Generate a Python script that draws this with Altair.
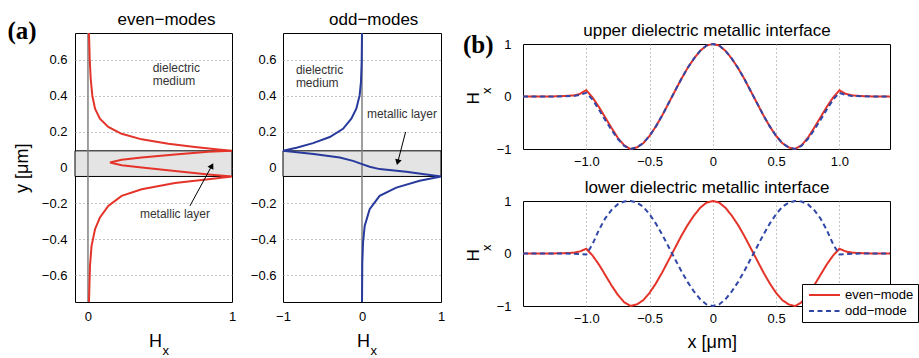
import altair as alt
import pandas as pd

FONT = "Liberation Sans"
SERIF = "Liberation Serif"
RED = "#e4342a"
BLUE = "#3047a8"
NAVY = "#283a9c"
GRID = "#8c8c8c"
BAND = "#e4e4e4"
ZERO = "#7f7f7f"
TXT = "#333333"

# ---------------- data : panel (a) ----------------
panel_titles = ["even−modes", "odd−modes",
                "upper dielectric metallic interface", "lower dielectric metallic interface"]

even_hx = [0.007, 0.012, 0.019, 0.030, 0.049, 0.083, 0.141, 0.234, 0.373, 0.558, 0.743, 0.905, 1.000,
           0.836, 0.604, 0.373, 0.234, 0.153,
           0.234, 0.373, 0.604, 0.836, 1.000,
           0.836, 0.604, 0.373, 0.234, 0.141, 0.083, 0.049, 0.025, 0.014, 0.007]
even_y = [0.750, 0.607, 0.496, 0.402, 0.328, 0.272, 0.226, 0.188, 0.157, 0.132, 0.114, 0.101, 0.093,
          0.088, 0.073, 0.056, 0.043, 0.028,
          0.013, 0.000, -0.020, -0.039, -0.050,
          -0.065, -0.087, -0.121, -0.158, -0.214, -0.279, -0.344, -0.437, -0.549, -0.750]

odd_hx = [0.000, -0.004, -0.013, -0.030, -0.072, -0.135, -0.240, -0.408, -0.619, -0.829, -1.000,
          -0.613, -0.282, -0.114, 0.000, 0.097, 0.223, 0.560, 1.000,
          0.730, 0.434, 0.223, 0.097, 0.034, 0.013, 0.004, 0.000]
odd_y = [0.750, 0.589, 0.477, 0.402, 0.328, 0.272, 0.216, 0.170, 0.136, 0.110, 0.093,
         0.075, 0.056, 0.037, 0.019, 0.004, -0.009, -0.024, -0.050,
         -0.074, -0.112, -0.158, -0.232, -0.326, -0.419, -0.530, -0.750]

layer_top = [0.093]
layer_bottom = [-0.050]

a_y_ticks = [-0.6, -0.4, -0.2, 0, 0.2, 0.4, 0.6]
a1_x_ticks = [0, 1]
a2_x_ticks = [-1, 0, 1]

# annotations (data coordinates)
a1_note_text = ["dielectric", "medium"]
a1_note_x = [0.449, 0.449]
a1_note_y = [0.555, 0.483]
a1_metal_x = [0.604]
a1_metal_y = [-0.257]
a1_arrow = {"x0": [0.708], "y0": [-0.214], "x1": [0.860], "y1": [0.010]}

a2_note_text = ["dielectric", "medium"]
a2_note_x = [-0.837, -0.837]
a2_note_y = [0.542, 0.471]
a2_metal_x = [0.505]
a2_metal_y = [0.296]
a2_arrow = {"x0": [0.552], "y0": [0.198], "x1": [0.452], "y1": [0.029]}

# ---------------- data : panel (b) ----------------
b_x = [-1.5, -1.3, -1.2, -1.1, -1.05, -1.0, -0.95, -0.9, -0.85, -0.8, -0.75, -0.7, -0.65, -0.6,
       -0.55, -0.5, -0.45, -0.4, -0.35, -0.3, -0.25, -0.2, -0.15, -0.1, -0.05, 0.0,
       0.05, 0.1, 0.15, 0.2, 0.25, 0.3, 0.35, 0.4, 0.45, 0.5, 0.55, 0.6, 0.65, 0.7, 0.75,
       0.8, 0.85, 0.9, 0.95, 1.0, 1.05, 1.1, 1.2, 1.3, 1.4]
even_upper = [0.0, 0.0, 0.005, 0.02, 0.05, 0.12, -0.02, -0.20, -0.40, -0.60, -0.79, -0.93, -1.0, -0.97,
              -0.89, -0.75, -0.57, -0.36, -0.13, 0.10, 0.33, 0.54, 0.72, 0.87, 0.97, 1.0,
              0.97, 0.87, 0.72, 0.54, 0.33, 0.10, -0.13, -0.36, -0.57, -0.75, -0.89, -0.97, -1.0, -0.93, -0.79,
              -0.60, -0.40, -0.20, -0.02, 0.12, 0.05, 0.02, 0.005, 0.0, 0.0]
odd_upper = [0.0, 0.0, 0.003, 0.01, 0.03, 0.07, -0.06, -0.25, -0.45, -0.64, -0.81, -0.94, -1.0, -0.97,
             -0.89, -0.75, -0.57, -0.36, -0.13, 0.10, 0.33, 0.54, 0.72, 0.87, 0.97, 1.0,
             0.97, 0.87, 0.72, 0.54, 0.33, 0.10, -0.13, -0.36, -0.57, -0.75, -0.89, -0.97, -1.0, -0.94, -0.81,
             -0.64, -0.45, -0.25, -0.06, 0.07, 0.03, 0.01, 0.003, 0.0, 0.0]
even_lower = [0.0, 0.0, 0.004, 0.015, 0.04, 0.09, -0.04, -0.21, -0.41, -0.61, -0.79, -0.93, -1.0, -0.97,
              -0.89, -0.75, -0.57, -0.36, -0.13, 0.10, 0.33, 0.54, 0.72, 0.87, 0.97, 1.0,
              0.97, 0.87, 0.72, 0.54, 0.33, 0.10, -0.13, -0.36, -0.57, -0.75, -0.89, -0.97, -1.0, -0.93, -0.79,
              -0.61, -0.41, -0.21, -0.04, 0.09, 0.04, 0.015, 0.004, 0.0, 0.0]
odd_lower = [0.0, 0.0, 0.0, -0.005, -0.01, -0.02, 0.18, 0.45, 0.67, 0.83, 0.94, 0.99, 1.0, 0.97,
             0.89, 0.75, 0.57, 0.36, 0.13, -0.10, -0.33, -0.54, -0.72, -0.87, -0.97, -1.0,
             -0.97, -0.87, -0.72, -0.54, -0.33, -0.10, 0.13, 0.36, 0.57, 0.75, 0.89, 0.97, 1.0, 0.99, 0.94,
             0.83, 0.67, 0.45, 0.18, -0.02, -0.01, -0.005, 0.0, 0.0, 0.0]
b_x_ticks = [-1.0, -0.5, 0, 0.5, 1.0]
b_y_ticks = [-1, 0, 1]
mode_names = ["even−mode", "odd−mode"]

# ---------------- layout sizes ----------------
HA = 269
W1, W2 = 157, 158
WB, HB = 367, 105


def label(text, x, y, **kw):
    style = dict(font=FONT, fontSize=13, color="black", align="left", baseline="alphabetic")
    style.update(kw)
    return alt.Chart(pd.DataFrame({"t": [text]})).mark_text(**style).encode(
        x=alt.value(x), y=alt.value(y), text="t:N")


def a_y(field, title=False, pad=8):
    kw = dict(values=a_y_ticks, format=".1~f", grid=True, labelPadding=pad)
    if title:
        kw.update(title="y [μm]", titleAngle=270, titleX=-48, titleY=134.7,
                  titleAlign="center", titleBaseline="alphabetic")
    else:
        kw["title"] = None
    return alt.Y(field, type="quantitative",
                 scale=alt.Scale(domain=[-0.75, 0.75], nice=False, zero=False),
                 axis=alt.Axis(**kw))


def a_x(field, domain, ticks):
    return alt.X(field, type="quantitative",
                 scale=alt.Scale(domain=domain, nice=False, zero=False),
                 axis=alt.Axis(values=ticks, format="~g", grid=False, labelPadding=8, title=None))


def a_panel(hx, yv, color, dom, ticks, W, ytitle, ypad, nt, nx, ny, mx, my, arrow, ang,
            title, title_x, tag):
    curve = pd.DataFrame({"i": list(range(len(hx))), "hx": hx, "y": yv})
    band = pd.DataFrame({"top": layer_top, "bottom": layer_bottom})
    zero = pd.DataFrame({"x": [0]})
    notes = pd.DataFrame({"t": nt, "x": nx, "y": ny})
    metal = pd.DataFrame({"t": ["metallic layer"], "x": mx, "y": my})
    arr = pd.DataFrame(arrow)
    X = lambda f: a_x(f, dom, ticks)
    Y = lambda f: a_y(f, ytitle, ypad)
    layers = [
        alt.Chart(band).mark_rect(fill=BAND, stroke="black", strokeWidth=1).encode(
            x=alt.value(0), x2=alt.value(W), y=Y("top"), y2="bottom:Q"),
        alt.Chart(zero).mark_rule(color=ZERO, strokeWidth=1.5).encode(x=X("x")),
        alt.Chart(curve).mark_line(color=color, strokeWidth=2).encode(
            x=X("hx"), y=Y("y"), order="i:Q"),
        alt.Chart(notes).mark_text(font=FONT, fontSize=12, color=TXT, align="left",
                                   baseline="middle").encode(x=X("x"), y=Y("y"), text="t:N"),
        alt.Chart(metal).mark_text(font=FONT, fontSize=12, color=TXT, align="center",
                                   baseline="middle").encode(x=X("x"), y=Y("y"), text="t:N"),
        alt.Chart(arr).mark_rule(color="black", strokeWidth=1).encode(
            x=X("x0"), y=Y("y0"), x2="x1:Q", y2="y1:Q"),
        alt.Chart(arr).mark_point(shape="triangle-up", filled=True, size=45, angle=ang,
                                  color="black", opacity=1).encode(x=X("x1"), y=Y("y1")),
        label(title, title_x, -8, fontSize=17, align="center"),
        label("H", 87, 314, fontSize=18, align="right"),
        label("x", 87.5, 322, fontSize=13),
    ]
    if tag:
        layers.append(label(tag, -67.5, 6, font=SERIF, fontSize=25, fontWeight="bold"))
    return alt.layer(*layers).properties(width=W, height=HA)


a1 = a_panel(even_hx, even_y, RED, [-0.09, 1.0], a1_x_ticks, W1, True, 8,
             a1_note_text, a1_note_x, a1_note_y, a1_metal_x, a1_metal_y, a1_arrow, 28.6,
             panel_titles[0], 91.5, "(a)")
a2 = a_panel(odd_hx, odd_y, NAVY, [-1.0, 1.0], a2_x_ticks, W2, False, 7,
             a2_note_text, a2_note_x, a2_note_y, a2_metal_x, a2_metal_y, a2_arrow, 194.8,
             panel_titles[1], 90.7, None)

color_scale = alt.Scale(domain=mode_names, range=[RED, BLUE])
dash_scale = alt.Scale(domain=mode_names, range=[[1, 0], [5, 3.5]])


def b_panel(even_v, odd_v, title, xtitle, tag, with_legend):
    rows = []
    for name, vals in zip(mode_names, [even_v, odd_v]):
        for xv, hv in zip(b_x, vals):
            rows.append({"mode": name, "x": xv, "h": hv})
    df = pd.DataFrame(rows)
    if with_legend:
        # the 1.0 label sits under the legend box, as in the original figure
        lab = "datum.value == 1 ? '' : (datum.value == 0 ? '0' : format(datum.value, '.1f'))"
    else:
        lab = "datum.value == 0 ? '0' : format(datum.value, '.1f')"
    xaxis = dict(values=b_x_ticks, grid=True, labelPadding=6, labelExpr=lab)
    if xtitle:
        xaxis.update(title="x [μm]", titleX=188.7, titleY=41, titleAlign="center",
                     titleBaseline="alphabetic")
    else:
        xaxis["title"] = None
    if with_legend:
        leg = alt.Legend(title=None, orient="none", legendX=279, legendY=83,
                         strokeColor="black", fillColor="white", padding=4,
                         labelFont=FONT, labelFontSize=13, labelColor="black",
                         symbolSize=960, symbolStrokeWidth=2, symbolType="stroke",
                         symbolOffset=2, clipHeight=14, rowPadding=2, labelOffset=4)
    else:
        leg = None
    lines = alt.Chart(df).mark_line(strokeWidth=2).encode(
        x=alt.X("x:Q", scale=alt.Scale(domain=[-1.5, 1.4], nice=False, zero=False),
                axis=alt.Axis(**xaxis)),
        y=alt.Y("h:Q", scale=alt.Scale(domain=[-1, 1], nice=False, zero=False),
                axis=alt.Axis(values=b_y_ticks, format="~g", grid=False, labelPadding=12,
                              title=None)),
        color=alt.Color("mode:N", scale=color_scale, legend=leg),
        strokeDash=alt.StrokeDash("mode:N", scale=dash_scale, legend=leg),
    )
    layers = [
        lines,
        label(title, 184, -8, fontSize=17, align="center"),
        label("H", -44, 60.5, fontSize=17, angle=270),
        label("x", -32.5, 50, fontSize=13, angle=270),
    ]
    if tag:
        layers.append(label(tag, -60, 9, font=SERIF, fontSize=25, fontWeight="bold"))
    return alt.layer(*layers).properties(width=WB, height=HB)


b1 = b_panel(even_upper, odd_upper, panel_titles[2], False, "(b)", False)
b2 = b_panel(even_lower, odd_lower, panel_titles[3], True, None, True)


def spacer(w, h):
    return alt.Chart(pd.DataFrame({"v": [0]})).mark_point(opacity=0).encode(
        x=alt.value(0), y=alt.value(0)).properties(width=w, height=h,
                                                   view=alt.ViewBackground(stroke=None))


ind = dict(color="independent", strokeDash="independent")
b_inner = alt.vconcat(b1, b2, spacing=52, bounds="flush").resolve_scale(**ind)
b_col = alt.vconcat(spacer(1, 1), b_inner, spacing=10, bounds="flush").resolve_scale(**ind)

chart = alt.hconcat(a1, spacer(1, 1), a2, spacer(32, 1), b_col, spacing=25,
                    bounds="flush").resolve_scale(**ind).properties(
    padding={"left": 7, "top": 10, "right": 0, "bottom": 0}
).configure_view(
    stroke="black", strokeWidth=1
).configure_axis(
    labelFont=FONT, labelFontSize=13, labelColor="black", domain=False, ticks=False, tickSize=0,
    gridDash=[1, 3], gridColor=GRID, gridWidth=1, labelFlush=False,
    titleFont=FONT, titleFontSize=18, titleFontWeight="normal", titleColor="black"
)

chart.save("out.html", embed_options={"renderer": "svg", "actions": False})
